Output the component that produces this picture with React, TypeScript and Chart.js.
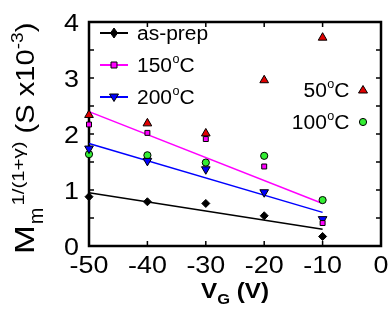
import React, { useEffect, useRef } from "react";
import { Chart, registerables } from "chart.js";

Chart.register(...registerables);

const vg = [-50, -40, -30, -20, -10];
const asPrep = [0.88, 0.79, 0.76, 0.54, 0.17];
const t150 = [2.17, 2.02, 1.91, 1.42, 0.41];
const t200 = [1.74, 1.52, 1.37, 0.96, 0.48];
const t50 = [2.34, 2.19, 2.01, 2.96, 3.72];
const t100 = [1.64, 1.62, 1.49, 1.61, 0.82];
const fitX = [-50, -10];
const fitAsPrep = [0.95, 0.3];
const fit150 = [2.4, 0.76];
const fit200 = [1.83, 0.6];
const xTicks = [-50, -40, -30, -20, -10, 0];
const yTicks = [0, 0.5, 1, 1.5, 2, 2.5, 3, 3.5, 4];
const yLabels = [0, 1, 2, 3, 4];

const FAM = "'Liberation Sans', Arial, sans-serif";
const SX = 1.15;

const RED = "#e00000";
const MAG = "#ff00ff";
const BLUE = "#0000ff";
const GREEN = "#33ee33";

function pts(xs: number[], ys: number[]) {
  return xs.map((x, i) => ({ x, y: ys[i] }));
}

function txt(ctx: CanvasRenderingContext2D, s: string, x: number, y: number, size: number, bold = false, sx = SX) {
  ctx.save();
  ctx.font = `${bold ? "bold " : ""}${size}px ${FAM}`;
  ctx.translate(x, y);
  ctx.scale(sx, 1);
  ctx.textBaseline = "alphabetic";
  ctx.textAlign = "left";
  ctx.fillText(s, 0, 0);
  const w = ctx.measureText(s).width * sx;
  ctx.restore();
  return w;
}

function meas(ctx: CanvasRenderingContext2D, s: string, size: number, bold = false, sx = SX) {
  ctx.save();
  ctx.font = `${bold ? "bold " : ""}${size}px ${FAM}`;
  const w = ctx.measureText(s).width * sx;
  ctx.restore();
  return w;
}

function marker(ctx: CanvasRenderingContext2D, kind: string, x: number, y: number, fill: string) {
  ctx.save();
  ctx.fillStyle = fill;
  ctx.strokeStyle = "#000";
  ctx.lineWidth = 1;
  ctx.beginPath();
  if (kind === "diamond") {
    ctx.moveTo(x, y - 5);
    ctx.lineTo(x + 3.5, y);
    ctx.lineTo(x, y + 5);
    ctx.lineTo(x - 3.5, y);
    ctx.closePath();
  } else if (kind === "square") {
    ctx.rect(x - 3, y - 3, 6, 6);
  } else if (kind === "tri") {
    ctx.moveTo(x, y - 4.5);
    ctx.lineTo(x + 4.5, y + 3);
    ctx.lineTo(x - 4.5, y + 3);
    ctx.closePath();
  } else if (kind === "tridown") {
    ctx.moveTo(x, y + 4.5);
    ctx.lineTo(x + 4.5, y - 3);
    ctx.lineTo(x - 4.5, y - 3);
    ctx.closePath();
  } else {
    ctx.arc(x, y, 3.6, 0, Math.PI * 2);
  }
  ctx.fill();
  ctx.stroke();
  ctx.restore();
}

const framePlugin = {
  id: "frame",
  beforeDatasetsDraw(chart: any) {
    const { ctx, chartArea: a, scales } = chart;
    const xs = scales.x;
    const ys = scales.y;
    ctx.save();
    ctx.strokeStyle = "#000";
    ctx.lineWidth = 1.5;
    xTicks.forEach((v) => {
      const p = xs.getPixelForValue(v);
      ctx.beginPath();
      ctx.moveTo(p, a.bottom);
      ctx.lineTo(p, a.bottom - 5);
      ctx.moveTo(p, a.top);
      ctx.lineTo(p, a.top + 5);
      ctx.stroke();
    });
    yTicks.forEach((v) => {
      const p = ys.getPixelForValue(v);
      ctx.beginPath();
      ctx.moveTo(a.left, p);
      ctx.lineTo(a.left + 5, p);
      ctx.moveTo(a.right, p);
      ctx.lineTo(a.right - 5, p);
      ctx.stroke();
    });
    ctx.lineWidth = 2.5;
    ctx.strokeRect(a.left, a.top, a.right - a.left, a.bottom - a.top);
    ctx.restore();
  },
  afterDraw(chart: any) {
    const { ctx, chartArea: a, scales } = chart;
    const xs = scales.x;
    const ys = scales.y;
    ctx.save();
    ctx.fillStyle = "#000";
    // tick labels
    const TF = 24;
    xTicks.forEach((v) => {
      const p = xs.getPixelForValue(v);
      const s = String(v);
      const w = meas(ctx, s, TF, false, 1.12);
      txt(ctx, s, p - w / 2, a.bottom + 27, TF, false, 1.12);
    });
    yLabels.forEach((v) => {
      const p = ys.getPixelForValue(v);
      const s = String(v);
      const w = meas(ctx, s, TF, false, 1.12);
      txt(ctx, s, a.left - 10 - w, p + 9, TF, false, 1.12);
    });
    // x title
    {
      const parts = [
        { s: "V", f: 22, dy: 0 },
        { s: "G", f: 15, dy: 6 },
        { s: " (V)", f: 22, dy: 0 },
      ];
      const total = parts.reduce((acc, p) => acc + meas(ctx, p.s, p.f, true, 1.1), 0);
      let x = (a.left + a.right) / 2 - total / 2;
      parts.forEach((p) => {
        x += txt(ctx, p.s, x, 298 + p.dy, p.f, true, 1.1);
      });
    }
    // y title
    {
      ctx.save();
      ctx.translate(34, 254);
      ctx.rotate(-Math.PI / 2);
      const parts = [
        { s: "M", f: 27, dy: 0, sx: 1.28, gap: 1 },
        { s: "m", f: 20, dy: 9, sx: 1.0, gap: 2 },
        { s: "1/(1+\u03b3)", f: 17, dy: -10, sx: 1.2, gap: 0 },
        { s: " (S x10", f: 26, dy: 0, sx: 1.12, gap: 0 },
        { s: "-3", f: 17, dy: -11, sx: 1.12, gap: 0 },
        { s: ")", f: 26, dy: 0, sx: 1.12, gap: 0 },
      ];
      let x = 0;
      parts.forEach((p) => {
        x += txt(ctx, p.s, x, p.dy, p.f, false, p.sx) + p.gap;
      });
      ctx.restore();
    }
    // left legend
    const rows = [
      { y: 33, c: "#000", k: "diamond", fill: "#000", label: "as-prep", deg: false },
      { y: 65, c: MAG, k: "square", fill: MAG, label: "150", deg: true },
      { y: 97, c: BLUE, k: "tridown", fill: BLUE, label: "200", deg: true },
    ];
    const LF = 20;
    rows.forEach((r) => {
      ctx.save();
      ctx.strokeStyle = r.c;
      ctx.lineWidth = 2;
      ctx.beginPath();
      ctx.moveTo(100, r.y);
      ctx.lineTo(128, r.y);
      ctx.stroke();
      ctx.restore();
      marker(ctx, r.k, 114, r.y, r.fill);
      let x = 137;
      x += txt(ctx, r.label, x, r.y + 7, LF, false, 1.05);
      if (r.deg) {
        x += txt(ctx, "o", x + 0.5, r.y - 2, 12, false, 1.05) + 0.5;
        txt(ctx, "C", x, r.y + 7, LF, false, 1.05);
      }
    });
    // right legend
    const rrows = [
      { y: 90, k: "tri", fill: RED, label: "50" },
      { y: 122, k: "circle", fill: GREEN, label: "100" },
    ];
    rrows.forEach((r) => {
      const w = meas(ctx, r.label, LF, false, 1.05) + meas(ctx, "o", 12, false, 1.05) + 1 + meas(ctx, "C", LF, false, 1.05);
      let x = 350 - w;
      x += txt(ctx, r.label, x, r.y + 7, LF, false, 1.05);
      x += txt(ctx, "o", x + 0.5, r.y - 2, 12, false, 1.05) + 0.5;
      txt(ctx, "C", x, r.y + 7, LF, false, 1.05);
      marker(ctx, r.k, 363, r.y, r.fill);
    });
    ctx.restore();
  },
};

export default function App() {
  const ref = useRef<HTMLCanvasElement | null>(null);
  useEffect(() => {
    if (!ref.current) return;
    const pointDs = (label: string, ys: number[], style: any, fill: string, radius: number, rotation = 0) => ({
      label,
      data: pts(vg, ys),
      showLine: false,
      pointStyle: style,
      pointRotation: rotation,
      pointRadius: radius,
      pointBackgroundColor: fill,
      pointBorderColor: "#000",
      pointBorderWidth: 1,
      backgroundColor: fill,
      borderColor: "#000",
      clip: false as any,
    });
    const lineDs = (label: string, ys: number[], color: string) => ({
      label,
      data: pts(fitX, ys),
      showLine: true,
      borderColor: color,
      borderWidth: 1.5,
      pointRadius: 0,
      fill: false,
      clip: false as any,
    });
    const chart = new Chart(ref.current, {
      type: "line",
      data: {
        datasets: [
          pointDs("as-prep", asPrep, "rectRot", "#000", 4),
          pointDs("150°C", t150, "rect", MAG, 3.5),
          pointDs("200°C", t200, "triangle", BLUE, 5, 180),
          pointDs("50°C", t50, "triangle", RED, 5),
          pointDs("100°C", t100, "circle", GREEN, 3.6),
          lineDs("fit as-prep", fitAsPrep, "#000"),
          lineDs("fit 150°C", fit150, MAG),
          lineDs("fit 200°C", fit200, BLUE),
        ] as any,
      },
      options: {
        responsive: false,
        animation: false,
        devicePixelRatio: 1,
        layout: { padding: { top: 22, right: 9, left: 0, bottom: 0 } },
        plugins: { legend: { display: false }, tooltip: { enabled: false } },
        scales: {
          x: {
            type: "linear",
            min: -50,
            max: 0,
            grid: { display: false, drawTicks: false },
            border: { display: false },
            ticks: { display: false },
            afterFit: (s: any) => {
              s.height = 77;
            },
          },
          y: {
            type: "linear",
            min: 0,
            max: 4,
            grid: { display: false, drawTicks: false },
            border: { display: false },
            ticks: { display: false },
            afterFit: (s: any) => {
              s.width = 89;
            },
          },
        },
      } as any,
      plugins: [framePlugin],
    });
    return () => chart.destroy();
  }, []);
  return (
    <div style={{ position: "fixed", left: 0, top: 0, width: 390, height: 323, background: "#fff" }}>
      <canvas ref={ref} width={390} height={323} style={{ width: 390, height: 323 }} />
    </div>
  );
}
